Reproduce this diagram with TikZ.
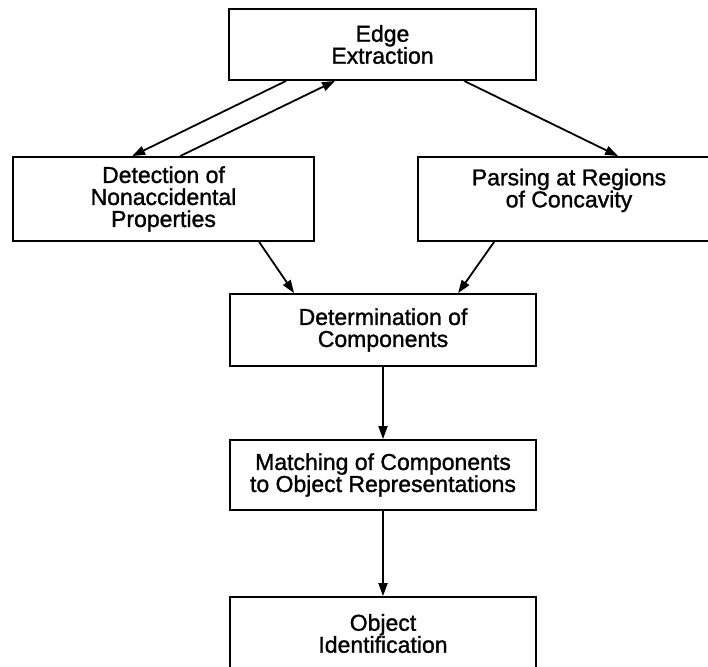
\documentclass[tikz,border=0pt]{standalone}
\usepackage{fontspec}
\setmainfont{Liberation Sans}[FakeBold=1.3]
\usetikzlibrary{arrows.meta,calc}
\tikzset{
  box/.style={draw=black, line width=1.8pt, rectangle, inner sep=0pt, align=center,
    font=\fontsize{23}{22}\selectfont\addfontfeature{FakeBold=1.3}},
  arr/.style={line width=1.8pt, -{Triangle[length=13pt,width=9pt]}},
}
\begin{document}
\begin{tikzpicture}[x=1pt,y=-1pt]
\useasboundingbox (0,0) rectangle (708,666);
\clip (0,0) rectangle (708,666);
\node[box, minimum width=307pt, minimum height=71pt] (edge) at (382.5,44.5) {Edge\\Extraction};
\node[box, minimum width=301pt, minimum height=84pt] (detect) at (163.5,199) {Detection of\\Nonaccidental\\Properties};
\node[box, minimum width=302pt, minimum height=84pt] (parse) at (569,199) {Parsing at Regions\\of Concavity\\\phantom{X}};
\node[box, minimum width=306pt, minimum height=72pt] (det) at (383,330) {Determination of\\Components};
\node[box, minimum width=306pt, minimum height=70pt] (match) at (383,475) {Matching of Components\\to Object Representations};
\node[box, minimum width=306pt, minimum height=73pt] (obj) at (383,633.5) {Object\\Identification};
\draw[arr] ($(edge.south west)+(58,0)$) -- ($(detect.north west)+(120,0)$);
\draw[arr] ($(detect.north west)+(168,0)$) -- ($(edge.south west)+(107,0)$);
\draw[arr] ($(edge.south west)+(236,0)$) -- ($(parse.north west)+(201,0)$);
\draw[arr] ($(detect.south west)+(247,0)$) -- ($(det.north west)+(65,0)$);
\draw[arr] ($(parse.south west)+(77,0)$) -- ($(det.north west)+(229,0)$);
\draw[arr] (det.south) -- (match.north);
\draw[arr] (match.south) -- (obj.north);
\end{tikzpicture}
\end{document}
